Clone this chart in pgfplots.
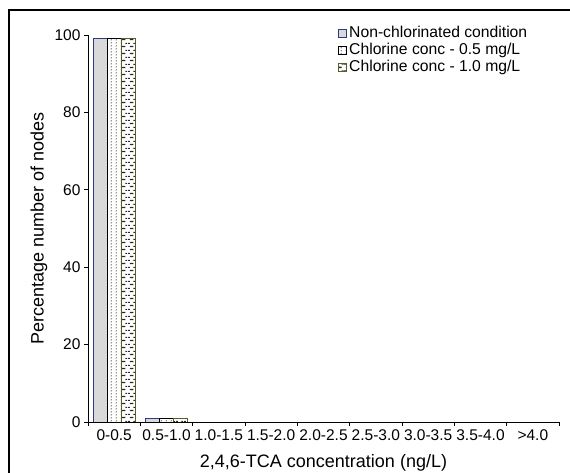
\documentclass[border=0pt]{standalone}
\usepackage{pgfplots}
\pgfplotsset{compat=1.18}
\usepackage{fontspec}
\setmainfont{Liberation Sans}
\usetikzlibrary{patterns,patterns.meta}
\definecolor{navyedge}{RGB}{40,60,130}
\definecolor{greenedge}{RGB}{79,98,40}
\definecolor{barfill}{RGB}{217,217,217}

\pgfdeclarepattern{
  name=sparsedots,
  type=uncolored,
  bottom left={\pgfpoint{0pt}{0pt}},
  top right={\pgfpoint{4.6pt}{3.4pt}},
  tile size={\pgfpoint{4.6pt}{3.4pt}},
  code={\pgfpathcircle{\pgfpoint{1.3pt}{1.3pt}}{0.65pt}\pgfusepath{fill}}
}
\pgfdeclarepattern{
  name=hdashes,
  type=uncolored,
  bottom left={\pgfpoint{0pt}{0pt}},
  top right={\pgfpoint{8pt}{6.6pt}},
  tile size={\pgfpoint{8pt}{6.6pt}},
  code={
    \pgfsetlinewidth{1.3pt}
    \pgfpathmoveto{\pgfpoint{2pt}{1.6pt}}\pgfpathlineto{\pgfpoint{6pt}{1.6pt}}
    \pgfpathmoveto{\pgfpoint{0pt}{4.9pt}}\pgfpathlineto{\pgfpoint{2pt}{4.9pt}}
    \pgfpathmoveto{\pgfpoint{6pt}{4.9pt}}\pgfpathlineto{\pgfpoint{8pt}{4.9pt}}
    \pgfusepath{stroke}
  }
}
\pgfplotsset{sqlegend/.style={legend image code/.code={\draw[##1, line width=0.9pt] (0pt,-4pt) rectangle (8pt,4pt);}}}

\begin{document}
\begin{tikzpicture}[x=1pt,y=1pt]
\begin{axis}[
  at={(88pt,50pt)}, anchor=south west,
  scale only axis, width=471pt, height=387pt,
  ybar=0pt, bar width=14pt,
  xmin=-0.5, xmax=8.5, ymin=0, ymax=100,
  enlargelimits=false,
  xtick={0,...,8},
  xticklabels={0-0.5,0.5-1.0,1.0-1.5,1.5-2.0,2.0-2.5,2.5-3.0,3.0-3.5,3.5-4.0,>4.0},
  minor xtick={-0.5,0.5,...,8.5},
  ytick={0,20,...,100},
  axis x line*=bottom, axis y line*=left,
  axis line style={line width=0.9pt},
  tick align=outside,
  major tick length=4pt, minor tick length=4pt,
  every tick/.style={black, line width=0.9pt},
  major x tick style={draw=none},
  axis on top=true,
  /pgf/number format/assume math mode=true,
  ticklabel style={font=\fontsize{15.5}{18}\selectfont},
  label style={font=\fontsize{18}{21}\selectfont},
  xlabel={2,4,6-TCA concentration (ng/L)},
  ylabel={Percentage number of nodes},
  xlabel style={at={(axis description cs:0.5,-0.106)}, anchor=center},
  ylabel style={at={(axis description cs:-0.104,0.5)}, anchor=center},
  legend style={at={(axis description cs:0.531,1.0258)}, anchor=north west,
    draw=none, fill=none, inner sep=0pt, row sep=0pt,
    font=\fontsize{15.7}{19}\selectfont,
    nodes={inner xsep=2pt, inner ysep=0pt, text height=12pt, text depth=5pt},
    cells={anchor=west}},
]
\addplot[fill=barfill, draw=navyedge, line width=0.9pt, sqlegend] coordinates {(0,99.2) (1,0.8) (2,0) (3,0) (4,0) (5,0) (6,0) (7,0) (8,0)};
\addplot[pattern=sparsedots, pattern color=black, draw=black, line width=0.9pt, sqlegend] coordinates {(0,99.2) (1,0.8) (2,0) (3,0) (4,0) (5,0) (6,0) (7,0) (8,0)};
\addplot[pattern=hdashes, pattern color=black!85, draw=greenedge, line width=0.9pt, sqlegend] coordinates {(0,99.2) (1,0.8) (2,0) (3,0) (4,0) (5,0) (6,0) (7,0) (8,0)};
\legend{Non-chlorinated condition, Chlorine conc - 0.5 mg/L, Chlorine conc - 1.0 mg/L}
\end{axis}
\draw[line width=1.6pt] (9,-10) -- (9,462) -- (600,462);
\pgfresetboundingbox
\useasboundingbox (0,0) rectangle (570,472);
\end{tikzpicture}
\end{document}
